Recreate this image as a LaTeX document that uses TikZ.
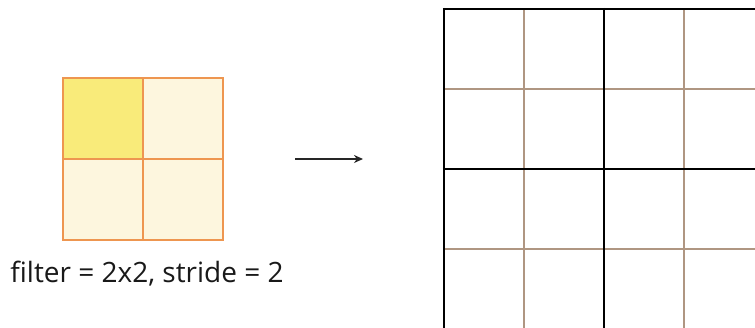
\documentclass[tikz,border=0pt]{standalone}
\usepackage{fontspec}
\setmainfont{Open Sans}
\usepackage{tikz}
\usepackage{xcolor}
\usetikzlibrary{arrows.meta, positioning}
\definecolor{hilite}{RGB}{249,235,122}
\definecolor{paleyel}{RGB}{253,246,222}
\definecolor{fedge}{RGB}{238,150,80}
\definecolor{thingrid}{RGB}{175,150,130}
\tikzstyle{fcell}=[rectangle, draw=fedge, line width=1.5pt, fill=paleyel,
  minimum width=80pt, minimum height=81pt, inner sep=0pt, outer sep=0pt]
\tikzstyle{sarr}=[-{Stealth[length=9pt, width=8pt]}, line width=1.5pt, color=black!85]

\begin{document}
\begin{tikzpicture}[x=1pt, y=-1pt]
    \useasboundingbox (0,0) rectangle (755,327);
    % 2x2 filter
    \node[fcell, fill=hilite] (f11) at (103,118.5) {};
    \node[fcell, right=0pt of f11] (f12) {};
    \node[fcell, below=0pt of f11] (f21) {};
    \node[fcell, right=0pt of f21] (f22) {};
    \draw[fedge, line width=1.5pt] (f11.north west) rectangle (f22.south east);
    \node[font=\fontsize{28}{33}\selectfont, text=black!90]
      (lbl) at (147,274) {filter = 2x2, stride = 2};
    % arrow
    \coordinate (astart) at (295,159);
    \coordinate (aend) at (363,159);
    \draw[sarr] (astart) -- (aend);
    % output grid
    \begin{scope}
      \clip (0,0) rectangle (755,327);
      \foreach \i in {0,1,2,3,4} {
        \draw[thingrid, line width=1.2pt] (444+80*\i,9) -- (444+80*\i,335);
        \draw[thingrid, line width=1.2pt] (444,9+80*\i) -- (770,9+80*\i);
      }
      \foreach \i in {0,2} {
        \draw[black, line width=2.2pt] (444+80*\i,7.9) -- (444+80*\i,335);
        \draw[black, line width=2.2pt] (442.9,9+80*\i) -- (770,9+80*\i);
      }
    \end{scope}
  \end{tikzpicture}
\end{document}
